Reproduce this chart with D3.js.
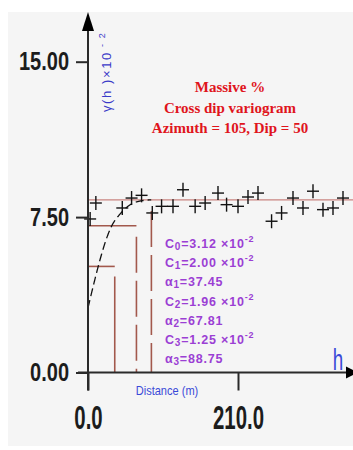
<!DOCTYPE html>
<html><head><meta charset="utf-8">
<script src="https://cdn.jsdelivr.net/npm/d3@7"></script>
<style>
html,body{margin:0;padding:0;background:#fff;}
svg{display:block;}
</style></head><body>
<svg id="chart" width="353" height="450"></svg>
<script>
// Experimental cross-dip semivariogram (lag distance in m, gamma in units of 10^-2)
const lagDistance = [3, 11, 48, 61, 75, 90, 103, 119, 133, 150, 164, 182, 194, 210, 224, 238, 257, 271, 287, 301, 315, 329, 343, 357];
const gammaValue = [7.41, 8.18, 7.94, 8.42, 8.55, 7.70, 8.02, 8.02, 8.82, 8.02, 8.18, 8.66, 8.10, 8.02, 8.47, 8.66, 7.30, 7.70, 8.42, 7.94, 8.75, 7.86, 7.94, 8.42];

// Fitted nested spherical model: nugget + three structures
const nugget = 3.12;
const structureSills = [2.00, 1.96, 1.25];
const structureRanges = [37.45, 67.81, 88.75];

const yTicks = [0, 7.5, 15];
const xTicks = [0, 210];
const titleLines = ["Massive %", "Cross dip variogram", "Azimuth = 105, Dip = 50"];

const svg = d3.select("#chart");
const x = d3.scaleLinear().domain([0, 210]).range([88, 238]);
const y = d3.scaleLinear().domain([0, 15]).range([372.5, 61.7]);
const xEnd = x.invert(353);

// panel background
svg.append("rect").attr("x", 8).attr("y", 12).attr("width", 345).attr("height", 434).attr("fill", "#f5f5f5");

// spherical model
const sph = (h, a) => h >= a ? 1 : 1.5 * h / a - 0.5 * Math.pow(h / a, 3);
const model = h => nugget + d3.sum(structureSills, (c, i) => c * sph(h, structureRanges[i]));
const levels = structureSills.map((c, i) => nugget + d3.sum(structureSills.slice(0, i + 1)));
const brown = "#a2584c";

const structG = svg.append("g");
levels.forEach((lv, i) => {
  const last = i === levels.length - 1;
  structG.append("line")
    .attr("x1", x(0)).attr("x2", last ? x(xEnd) : x(structureRanges[i]))
    .attr("y1", y(lv)).attr("y2", y(lv))
    .attr("stroke", last ? "#c98480" : brown).attr("stroke-width", last ? 1.4 : 1.6);
  structG.append("line")
    .attr("x1", x(structureRanges[i])).attr("x2", x(structureRanges[i]))
    .attr("y1", y(lv)).attr("y2", y(0))
    .attr("stroke", brown).attr("stroke-width", 1.6)
    .attr("stroke-dasharray", i === 0 ? "0,10,400" : "0,11,36,8,36,8,36,8,36,8");
});

// model curve up to the largest range
const curvePts = d3.range(0, structureRanges[2] + 0.25, 0.5).map(h => [h, model(h)]);
svg.append("path")
  .attr("d", d3.line().x(d => x(d[0])).y(d => y(d[1]))(curvePts))
  .attr("fill", "none").attr("stroke", "#111").attr("stroke-width", 1.3)
  .attr("stroke-dasharray", "8,4");

// experimental points as crosses
const pts = svg.append("g").attr("stroke", "#111").attr("stroke-width", 1.4);
lagDistance.forEach((h, i) => {
  const cx = x(h), cy = y(gammaValue[i]);
  pts.append("line").attr("x1", cx - 6).attr("x2", cx + 6).attr("y1", cy).attr("y2", cy);
  pts.append("line").attr("x1", cx).attr("x2", cx).attr("y1", cy - 7).attr("y2", cy + 7);
});

// axes
const axisColor = "#2a2a2a";
const yAxis = svg.append("g").attr("transform", `translate(${x(0)},0)`)
  .call(d3.axisLeft(y).tickValues(yTicks).tickSize(12).tickSizeOuter(0).tickPadding(19).tickFormat(d3.format(".2f")));
yAxis.select(".domain").remove();
yAxis.selectAll(".tick line").attr("stroke", axisColor).attr("stroke-width", 2);
yAxis.selectAll(".tick text")
  .attr("font-family", "'Liberation Sans', Arial, sans-serif").attr("font-weight", "bold")
  .attr("font-size", 25).attr("fill", "#1c1c1c")
  .attr("x", -19 / 0.8).attr("transform", "scale(0.8,1)");

const xAxis = svg.append("g").attr("transform", `translate(0,${y(0)})`)
  .call(d3.axisBottom(x).tickValues(xTicks).tickSize(18).tickSizeOuter(0).tickPadding(14).tickFormat(d3.format(".1f")));
xAxis.select(".domain").remove();
xAxis.selectAll(".tick line").attr("stroke", axisColor).attr("stroke-width", 2);
xAxis.selectAll(".tick text")
  .attr("font-family", "'Liberation Sans', Arial, sans-serif").attr("font-weight", "bold")
  .attr("font-size", 34).attr("fill", "#1c1c1c")
  .attr("transform", "scale(0.6,1)");

// axis lines with arrowheads
svg.append("line").attr("x1", 78).attr("x2", 349).attr("y1", y(0)).attr("y2", y(0))
  .attr("stroke", axisColor).attr("stroke-width", 2);
svg.append("line").attr("x1", x(0)).attr("x2", x(0)).attr("y1", 24).attr("y2", y(0) + 18)
  .attr("stroke", axisColor).attr("stroke-width", 2);
svg.append("path").attr("d", `M${x(0)},12 L${x(0) - 6},31 L${x(0) + 6},31 Z`).attr("fill", "#000");
svg.append("path").attr("d", `M358,${y(0)} L346,${y(0) - 6} L346,${y(0) + 6} Z`).attr("fill", "#000");

// axis titles
svg.append("text").attr("x", 338 / 0.65).attr("y", 370).attr("transform", "scale(0.65,1)")
  .attr("text-anchor", "middle").attr("font-family", "'Liberation Sans', Arial, sans-serif")
  .attr("font-size", 29).attr("fill", "#3a4ad8").text("h");
svg.append("text").attr("x", 167 / 0.85).attr("y", 395).attr("transform", "scale(0.85,1)")
  .attr("text-anchor", "middle").attr("font-family", "'Liberation Sans', Arial, sans-serif")
  .attr("font-size", 13).attr("fill", "#3a4ad8").text("Distance (m)");
const yl = svg.append("text").attr("transform", "translate(111,112) rotate(-90)")
  .attr("font-family", "'Liberation Sans', Arial, sans-serif").attr("font-size", 13)
  .attr("fill", "#3a3ac8").attr("letter-spacing", 1.6);
yl.append("tspan").text("γ(h )×10");
yl.append("tspan").attr("dy", -6).attr("font-size", 9).text(" - 2");

// title block
const tt = svg.append("text").attr("text-anchor", "middle")
  .attr("font-family", "'Liberation Serif', 'Times New Roman', serif").attr("font-weight", "bold")
  .attr("font-size", 15).attr("fill", "#e0141c");
titleLines.forEach((t, i) => {
  tt.append("tspan").attr("x", 230).attr("y", 92 + i * 20.5).text(t);
});

// model parameters
const fmt = d3.format(".2f");
const paramLines = [];
paramLines.push({sym: "C", sub: "0", val: fmt(nugget), exp: true});
structureSills.forEach((c, i) => {
  paramLines.push({sym: "C", sub: String(i + 1), val: fmt(c), exp: true});
  paramLines.push({sym: "α", sub: String(i + 1), val: fmt(structureRanges[i]), exp: false});
});
const pg = svg.append("g").attr("font-family", "'Liberation Sans', Arial, sans-serif")
  .attr("font-weight", "bold").attr("fill", "#9b3fd4").attr("font-size", 12.5).attr("letter-spacing", 0.8);
paramLines.forEach((p, i) => {
  const t = pg.append("text").attr("x", 165).attr("y", 248 + i * 19.2);
  t.append("tspan").text(p.sym);
  t.append("tspan").attr("dy", 2).attr("font-size", 10).text(p.sub);
  t.append("tspan").attr("dy", -2).text("=" + p.val + (p.exp ? " ×10" : ""));
  if (p.exp) t.append("tspan").attr("dy", -6).attr("font-size", 9).text("-2");
});
</script>
</body></html>
